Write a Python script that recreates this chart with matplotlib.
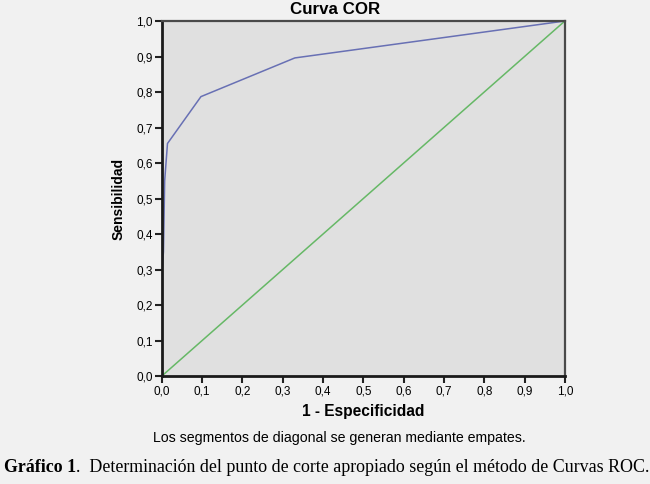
import matplotlib
matplotlib.use("Agg")
import matplotlib.pyplot as plt

# ROC curve points (1 - specificity, sensitivity)
fpr = [0.0, 0.0, 0.004, 0.007, 0.014, 0.097, 0.33, 1.0]
tpr = [0.0, 0.29, 0.35, 0.55, 0.655, 0.787, 0.896, 1.0]
diag_x = [0.0, 1.0]
diag_y = [0.0, 1.0]
ticks = [0.0, 0.1, 0.2, 0.3, 0.4, 0.5, 0.6, 0.7, 0.8, 0.9, 1.0]
tick_labels = ["0,0", "0,1", "0,2", "0,3", "0,4", "0,5", "0,6", "0,7", "0,8", "0,9", "1,0"]

fig = plt.figure(figsize=(6.5, 4.84), dpi=100, facecolor="#f1f1f1")
ax = fig.add_axes([0.249, 0.2231, 0.62, 0.7335])
ax.set_facecolor("#e0e0e0")

ax.plot(diag_x, diag_y, color="#66b866", lw=1.1, solid_capstyle="butt")
ax.plot(fpr, tpr, color="#6870b4", lw=1.1)

ax.set_xlim(0, 1)
ax.set_ylim(0, 1)
ax.set_xticks(ticks)
ax.set_yticks(ticks)
ax.set_xticklabels(tick_labels, fontsize=8.5, family="Liberation Sans")
ax.set_yticklabels(tick_labels, fontsize=8.5, family="Liberation Sans")
ax.tick_params(direction="out", length=5, width=1.5, color="#222222", pad=1.5)

for s in ["left", "bottom"]:
    ax.spines[s].set_linewidth(2)
    ax.spines[s].set_color("#1a1a1a")
for s in ["top", "right"]:
    ax.spines[s].set_linewidth(1.6)
    ax.spines[s].set_color("#4a4a4a")

fig.text(335.5 / 650, 1 - 10 / 484, "Curva COR", ha="center", va="center",
         fontsize=12.2, fontweight="bold", family="Liberation Sans")
ax.set_xlabel("1 - Especificidad", fontsize=11.2, fontweight="bold", family="Liberation Sans", labelpad=5)
ax.set_ylabel("Sensibilidad", fontsize=10, fontweight="bold", family="Liberation Sans", labelpad=8)

fig.text(339 / 650, 1 - 438 / 484, "Los segmentos de diagonal se generan mediante empates.",
         ha="center", va="center", fontsize=10.2, family="Liberation Sans")
t1 = fig.text(0.006, 1 - 467 / 484, "Gráfico 1", ha="left", va="center",
              fontsize=12.9, fontweight="bold", family="Liberation Serif")
fig.canvas.draw()
bb = t1.get_window_extent()
x1 = bb.x1 / fig.bbox.width
fig.text(x1, 1 - 467 / 484,
         ".  Determinación del punto de corte apropiado según el método de Curvas ROC.",
         ha="left", va="center", fontsize=12.9, family="Liberation Serif")

fig.savefig("out.png", dpi=100, facecolor=fig.get_facecolor())
